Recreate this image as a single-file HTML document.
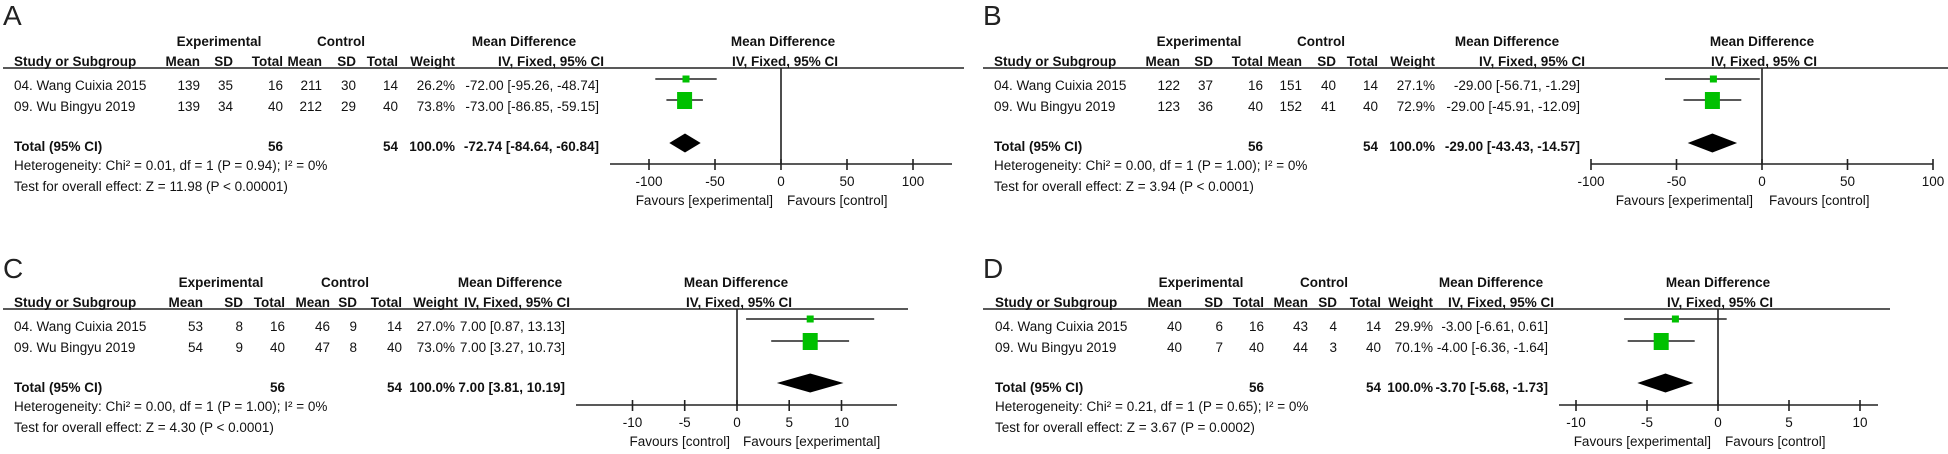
<!DOCTYPE html>
<html><head><meta charset="utf-8"><style>
html,body{margin:0;padding:0;background:#fff;width:1948px;height:454px;overflow:hidden}
svg{display:block}
text{font-family:"Liberation Sans",Arial,sans-serif;font-size:13.5px;fill:#111}
.b{font-weight:bold}
.e{text-anchor:end}
.m{text-anchor:middle}
.L{font-size:28px;fill:#222}
.g{fill:#00c000}
</style></head><body>
<svg width="1948" height="454" viewBox="0 0 1948 454" xmlns="http://www.w3.org/2000/svg">
<g stroke="#222" stroke-width="1.6" fill="none">
<!-- header lines -->
<line x1="3" y1="68" x2="964" y2="68"/>
<line x1="983" y1="68" x2="1948" y2="68"/>
<line x1="3" y1="309" x2="908" y2="309"/>
<line x1="983" y1="309" x2="1890" y2="309"/>
<!-- A plot -->
<line x1="781" y1="68" x2="781" y2="164"/>
<line x1="610" y1="164" x2="952" y2="164"/>
<line x1="649" y1="159" x2="649" y2="170"/><line x1="715" y1="159" x2="715" y2="170"/><line x1="781" y1="159" x2="781" y2="170"/><line x1="847" y1="159" x2="847" y2="170"/><line x1="913" y1="159" x2="913" y2="170"/>
<line x1="655.3" y1="79" x2="716.7" y2="79"/>
<line x1="666.4" y1="100" x2="702.9" y2="100"/>
<!-- B plot -->
<line x1="1762" y1="68" x2="1762" y2="164"/>
<line x1="1591" y1="164" x2="1933" y2="164"/>
<line x1="1591" y1="159" x2="1591" y2="170"/><line x1="1676.5" y1="159" x2="1676.5" y2="170"/><line x1="1762" y1="159" x2="1762" y2="170"/><line x1="1847.5" y1="159" x2="1847.5" y2="170"/><line x1="1933" y1="159" x2="1933" y2="170"/>
<line x1="1665" y1="79" x2="1759.8" y2="79"/>
<line x1="1683.5" y1="100" x2="1741.3" y2="100"/>
<!-- C plot -->
<line x1="737" y1="309" x2="737" y2="405"/>
<line x1="576" y1="405" x2="897" y2="405"/>
<line x1="632.5" y1="400" x2="632.5" y2="411"/><line x1="684.7" y1="400" x2="684.7" y2="411"/><line x1="737" y1="400" x2="737" y2="411"/><line x1="789.2" y1="400" x2="789.2" y2="411"/><line x1="841.5" y1="400" x2="841.5" y2="411"/>
<line x1="746.1" y1="319" x2="874.2" y2="319"/>
<line x1="771.2" y1="341" x2="849.1" y2="341"/>
<!-- D plot -->
<line x1="1718" y1="309" x2="1718" y2="405"/>
<line x1="1559" y1="405" x2="1878" y2="405"/>
<line x1="1576" y1="400" x2="1576" y2="411"/><line x1="1647" y1="400" x2="1647" y2="411"/><line x1="1718" y1="400" x2="1718" y2="411"/><line x1="1789" y1="400" x2="1789" y2="411"/><line x1="1860" y1="400" x2="1860" y2="411"/>
<line x1="1624.1" y1="319" x2="1726.7" y2="319"/>
<line x1="1627.7" y1="341" x2="1694.7" y2="341"/>
</g>
<!-- squares & diamonds -->
<rect class="g" x="682.5" y="75.5" width="7" height="7"/>
<rect class="g" x="677.1" y="92" width="15" height="17"/>
<polygon points="669.3,143 685,133.5 700.7,143 685,152.5" fill="#000"/>
<rect class="g" x="1709.9" y="75.5" width="7" height="7"/>
<rect class="g" x="1704.9" y="92" width="15" height="17"/>
<polygon points="1687.7,143 1712.4,133.5 1737.1,143 1712.4,152.5" fill="#000"/>
<rect class="g" x="806.7" y="315.5" width="7" height="7"/>
<rect class="g" x="802.7" y="333" width="15" height="17"/>
<polygon points="776.8,383 810.2,373.5 843.5,383 810.2,392.5" fill="#000"/>
<rect class="g" x="1671.9" y="315.5" width="7" height="7"/>
<rect class="g" x="1653.7" y="333" width="15" height="17"/>
<polygon points="1637.3,383 1665.5,373.5 1693.4,383 1665.5,392.5" fill="#000"/>

<!-- Panel A -->
<text class="L" x="3" y="25">A</text>
<text class="b m" x="219" y="46">Experimental</text><text class="b m" x="341" y="46">Control</text><text class="b m" x="524" y="46">Mean Difference</text><text class="b m" x="783" y="46">Mean Difference</text>
<text class="b" x="14" y="66">Study or Subgroup</text><text class="b e" x="200" y="66">Mean</text><text class="b e" x="233" y="66">SD</text><text class="b e" x="283" y="66">Total</text><text class="b e" x="322" y="66">Mean</text><text class="b e" x="356" y="66">SD</text><text class="b e" x="398" y="66">Total</text><text class="b e" x="455" y="66">Weight</text><text class="b e" x="604" y="66">IV, Fixed, 95% CI</text><text class="b m" x="785" y="66">IV, Fixed, 95% CI</text>
<text x="14" y="90">04. Wang Cuixia 2015</text><text class="e" x="200" y="90">139</text><text class="e" x="233" y="90">35</text><text class="e" x="283" y="90">16</text><text class="e" x="322" y="90">211</text><text class="e" x="356" y="90">30</text><text class="e" x="398" y="90">14</text><text class="e" x="455" y="90">26.2%</text><text class="e" x="599" y="90">-72.00 [-95.26, -48.74]</text>
<text x="14" y="111">09. Wu Bingyu 2019</text><text class="e" x="200" y="111">139</text><text class="e" x="233" y="111">34</text><text class="e" x="283" y="111">40</text><text class="e" x="322" y="111">212</text><text class="e" x="356" y="111">29</text><text class="e" x="398" y="111">40</text><text class="e" x="455" y="111">73.8%</text><text class="e" x="599" y="111">-73.00 [-86.85, -59.15]</text>
<text class="b" x="14" y="151">Total (95% CI)</text><text class="b e" x="283" y="151">56</text><text class="b e" x="398" y="151">54</text><text class="b e" x="455" y="151">100.0%</text><text class="b e" x="599" y="151">-72.74 [-84.64, -60.84]</text>
<text x="14" y="170">Heterogeneity: Chi² = 0.01, df = 1 (P = 0.94); I² = 0%</text>
<text x="14" y="191">Test for overall effect: Z = 11.98 (P &lt; 0.00001)</text>
<text class="m" x="649" y="186">-100</text><text class="m" x="715" y="186">-50</text><text class="m" x="781" y="186">0</text><text class="m" x="847" y="186">50</text><text class="m" x="913" y="186">100</text>
<text class="e" x="773" y="205">Favours [experimental]</text><text x="787" y="205">Favours [control]</text>

<!-- Panel B -->
<text class="L" x="983" y="25">B</text>
<text class="b m" x="1199" y="46">Experimental</text><text class="b m" x="1321" y="46">Control</text><text class="b m" x="1507" y="46">Mean Difference</text><text class="b m" x="1762" y="46">Mean Difference</text>
<text class="b" x="994" y="66">Study or Subgroup</text><text class="b e" x="1180" y="66">Mean</text><text class="b e" x="1213" y="66">SD</text><text class="b e" x="1263" y="66">Total</text><text class="b e" x="1302" y="66">Mean</text><text class="b e" x="1336" y="66">SD</text><text class="b e" x="1378" y="66">Total</text><text class="b e" x="1435" y="66">Weight</text><text class="b e" x="1585" y="66">IV, Fixed, 95% CI</text><text class="b m" x="1764" y="66">IV, Fixed, 95% CI</text>
<text x="994" y="90">04. Wang Cuixia 2015</text><text class="e" x="1180" y="90">122</text><text class="e" x="1213" y="90">37</text><text class="e" x="1263" y="90">16</text><text class="e" x="1302" y="90">151</text><text class="e" x="1336" y="90">40</text><text class="e" x="1378" y="90">14</text><text class="e" x="1435" y="90">27.1%</text><text class="e" x="1580" y="90">-29.00 [-56.71, -1.29]</text>
<text x="994" y="111">09. Wu Bingyu 2019</text><text class="e" x="1180" y="111">123</text><text class="e" x="1213" y="111">36</text><text class="e" x="1263" y="111">40</text><text class="e" x="1302" y="111">152</text><text class="e" x="1336" y="111">41</text><text class="e" x="1378" y="111">40</text><text class="e" x="1435" y="111">72.9%</text><text class="e" x="1580" y="111">-29.00 [-45.91, -12.09]</text>
<text class="b" x="994" y="151">Total (95% CI)</text><text class="b e" x="1263" y="151">56</text><text class="b e" x="1378" y="151">54</text><text class="b e" x="1435" y="151">100.0%</text><text class="b e" x="1580" y="151">-29.00 [-43.43, -14.57]</text>
<text x="994" y="170">Heterogeneity: Chi² = 0.00, df = 1 (P = 1.00); I² = 0%</text>
<text x="994" y="191">Test for overall effect: Z = 3.94 (P &lt; 0.0001)</text>
<text class="m" x="1591" y="186">-100</text><text class="m" x="1676.5" y="186">-50</text><text class="m" x="1762" y="186">0</text><text class="m" x="1847.5" y="186">50</text><text class="m" x="1933" y="186">100</text>
<text class="e" x="1753" y="205">Favours [experimental]</text><text x="1769" y="205">Favours [control]</text>

<!-- Panel C -->
<text class="L" x="3" y="278">C</text>
<text class="b m" x="221" y="287">Experimental</text><text class="b m" x="345" y="287">Control</text><text class="b m" x="510" y="287">Mean Difference</text><text class="b m" x="736" y="287">Mean Difference</text>
<text class="b" x="14" y="307">Study or Subgroup</text><text class="b e" x="203" y="307">Mean</text><text class="b e" x="243" y="307">SD</text><text class="b e" x="285" y="307">Total</text><text class="b e" x="330" y="307">Mean</text><text class="b e" x="357" y="307">SD</text><text class="b e" x="402" y="307">Total</text><text class="b e" x="458" y="307">Weight</text><text class="b e" x="570" y="307">IV, Fixed, 95% CI</text><text class="b m" x="739" y="307">IV, Fixed, 95% CI</text>
<text x="14" y="331">04. Wang Cuixia 2015</text><text class="e" x="203" y="331">53</text><text class="e" x="243" y="331">8</text><text class="e" x="285" y="331">16</text><text class="e" x="330" y="331">46</text><text class="e" x="357" y="331">9</text><text class="e" x="402" y="331">14</text><text class="e" x="455" y="331">27.0%</text><text class="e" x="565" y="331">7.00 [0.87, 13.13]</text>
<text x="14" y="352">09. Wu Bingyu 2019</text><text class="e" x="203" y="352">54</text><text class="e" x="243" y="352">9</text><text class="e" x="285" y="352">40</text><text class="e" x="330" y="352">47</text><text class="e" x="357" y="352">8</text><text class="e" x="402" y="352">40</text><text class="e" x="455" y="352">73.0%</text><text class="e" x="565" y="352">7.00 [3.27, 10.73]</text>
<text class="b" x="14" y="392">Total (95% CI)</text><text class="b e" x="285" y="392">56</text><text class="b e" x="402" y="392">54</text><text class="b e" x="455" y="392">100.0%</text><text class="b e" x="565" y="392">7.00 [3.81, 10.19]</text>
<text x="14" y="411">Heterogeneity: Chi² = 0.00, df = 1 (P = 1.00); I² = 0%</text>
<text x="14" y="432">Test for overall effect: Z = 4.30 (P &lt; 0.0001)</text>
<text class="m" x="632.5" y="427">-10</text><text class="m" x="684.7" y="427">-5</text><text class="m" x="737" y="427">0</text><text class="m" x="789.2" y="427">5</text><text class="m" x="841.5" y="427">10</text>
<text class="e" x="730" y="446">Favours [control]</text><text x="743" y="446">Favours [experimental]</text>

<!-- Panel D -->
<text class="L" x="983" y="278">D</text>
<text class="b m" x="1201" y="287">Experimental</text><text class="b m" x="1324" y="287">Control</text><text class="b m" x="1491" y="287">Mean Difference</text><text class="b m" x="1718" y="287">Mean Difference</text>
<text class="b" x="995" y="307">Study or Subgroup</text><text class="b e" x="1182" y="307">Mean</text><text class="b e" x="1223" y="307">SD</text><text class="b e" x="1264" y="307">Total</text><text class="b e" x="1308" y="307">Mean</text><text class="b e" x="1337" y="307">SD</text><text class="b e" x="1381" y="307">Total</text><text class="b e" x="1433" y="307">Weight</text><text class="b e" x="1554" y="307">IV, Fixed, 95% CI</text><text class="b m" x="1720" y="307">IV, Fixed, 95% CI</text>
<text x="995" y="331">04. Wang Cuixia 2015</text><text class="e" x="1182" y="331">40</text><text class="e" x="1223" y="331">6</text><text class="e" x="1264" y="331">16</text><text class="e" x="1308" y="331">43</text><text class="e" x="1337" y="331">4</text><text class="e" x="1381" y="331">14</text><text class="e" x="1433" y="331">29.9%</text><text class="e" x="1548" y="331">-3.00 [-6.61, 0.61]</text>
<text x="995" y="352">09. Wu Bingyu 2019</text><text class="e" x="1182" y="352">40</text><text class="e" x="1223" y="352">7</text><text class="e" x="1264" y="352">40</text><text class="e" x="1308" y="352">44</text><text class="e" x="1337" y="352">3</text><text class="e" x="1381" y="352">40</text><text class="e" x="1433" y="352">70.1%</text><text class="e" x="1548" y="352">-4.00 [-6.36, -1.64]</text>
<text class="b" x="995" y="392">Total (95% CI)</text><text class="b e" x="1264" y="392">56</text><text class="b e" x="1381" y="392">54</text><text class="b e" x="1433" y="392">100.0%</text><text class="b e" x="1548" y="392">-3.70 [-5.68, -1.73]</text>
<text x="995" y="411">Heterogeneity: Chi² = 0.21, df = 1 (P = 0.65); I² = 0%</text>
<text x="995" y="432">Test for overall effect: Z = 3.67 (P = 0.0002)</text>
<text class="m" x="1576" y="427">-10</text><text class="m" x="1647" y="427">-5</text><text class="m" x="1718" y="427">0</text><text class="m" x="1789" y="427">5</text><text class="m" x="1860" y="427">10</text>
<text class="e" x="1711" y="446">Favours [experimental]</text><text x="1725" y="446">Favours [control]</text>
</svg>
</body></html>
